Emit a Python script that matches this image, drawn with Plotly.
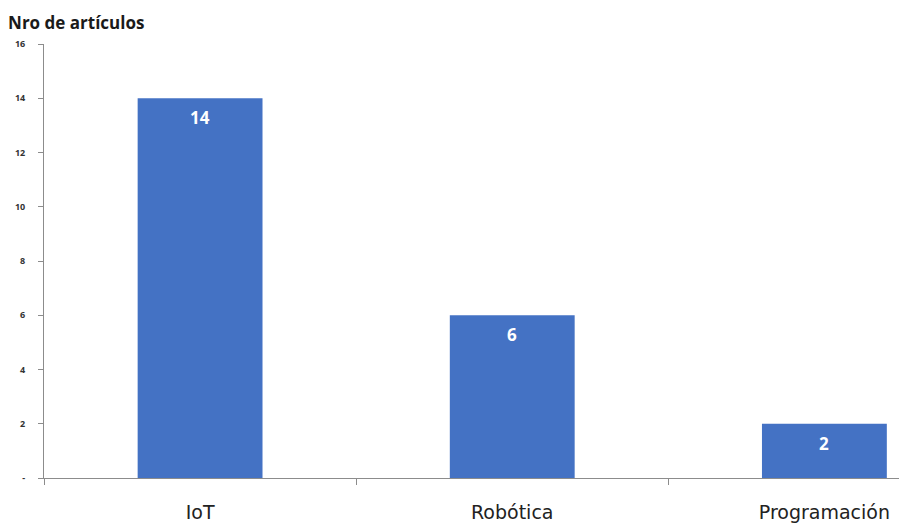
import plotly.graph_objects as go

categories = ["IoT", "Robótica", "Programación"]
values = [14, 6, 2]
y_tickvals = [0, 2, 4, 6, 8, 10, 12, 14, 16]
y_ticktext = ["-", "2", "4", "6", "8", "10", "12", "14", "16"]

x_pos = list(range(len(categories)))

fig = go.Figure(go.Bar(
    x=x_pos, y=values, width=0.40,
    marker=dict(color="#4472C4", line=dict(width=0)),
    hoverinfo="x+y",
))

for xp, v in zip(x_pos, values):
    fig.add_annotation(x=xp, y=v, text=f"<b>{v}</b>", showarrow=False,
                       yanchor="top", yshift=-6,
                       font=dict(family="Open Sans", size=17, color="white"))

fig.update_layout(
    width=899, height=525, autosize=False,
    margin=dict(l=44, r=0, t=44, b=47),
    plot_bgcolor="white", paper_bgcolor="white",
    showlegend=False,
    title=dict(text="<b>Nro de artículos</b>", xref="container", yref="container",
               x=0.009, xanchor="left", y=0.957, yanchor="middle",
               font=dict(family="Open Sans", size=17, color="#1a1a1a")),
    xaxis=dict(range=[-0.5, 2.239], tickmode="array", tickvals=x_pos, ticktext=categories,
               showline=True, linecolor="#8c8c8c", linewidth=1, ticks="",
               showgrid=False, zeroline=False,
               tickfont=dict(family="DejaVu Sans", size=19, color="#222"),
               ticklabelstandoff=17,
               minor=dict(tickmode="linear", tick0=0.5, dtick=1, ticks="outside",
                          ticklen=6, tickcolor="#8c8c8c", tickwidth=1, showgrid=False)),
    yaxis=dict(range=[0, 16], tickmode="array", tickvals=y_tickvals, ticktext=y_ticktext,
               showline=True, linecolor="#8c8c8c", linewidth=1, ticks="outside",
               ticklen=5, tickcolor="#8c8c8c", showgrid=False, zeroline=False,
               tickfont=dict(family="Open Sans", size=9, color="#333", weight="bold"),
               ticklabelstandoff=11),
)

fig.write_html("out.html")
